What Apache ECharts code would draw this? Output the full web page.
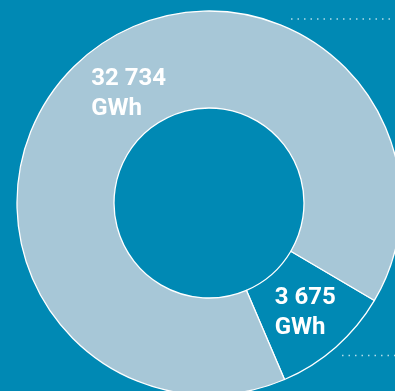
<!DOCTYPE html>
<html>
<head>
<meta charset="utf-8">
<script src="https://cdn.jsdelivr.net/npm/echarts@6/dist/echarts.min.js"></script>
<style>
  html, body { margin: 0; padding: 0; background: #0089b4; }
  #chart { width: 395px; height: 391px; }
</style>
</head>
<body>
<div id="chart"></div>
<script>
// values in GWh
var names = ['small', 'large'];
var values = [3675, 32734];
var labels = ['3 675\nGWh', '32 734\nGWh'];

var bg = '#0089b4';
var sliceColors = [bg, '#a7c7d7'];
// nudges for the labels (left aligned in the original)
var labelShift = [[-31, 0], [-21, 1]];

var chart = echarts.init(document.getElementById('chart'));
var data = [];
for (var i = 0; i < values.length; i++) {
    data.push({
        name: names[i],
        value: values[i],
        itemStyle: { color: sliceColors[i] },
        label: { formatter: labels[i] }
    });
}

var option = {
    backgroundColor: bg,
    animation: false,
    graphic: [
        {
            type: 'line',
            shape: { x1: 291, y1: 19, x2: 395, y2: 19 },
            style: { stroke: 'rgba(255,255,255,0.7)', lineWidth: 1.5, lineDash: [1.5, 5] }
        },
        {
            type: 'line',
            shape: { x1: 342, y1: 355.5, x2: 395, y2: 355.5 },
            style: { stroke: 'rgba(255,255,255,0.7)', lineWidth: 1.5, lineDash: [1.5, 5] }
        }
    ],
    series: [{
        type: 'pie',
        center: [209, 203],
        radius: [95, 192],
        startAngle: -30.5,
        clockwise: true,
        silent: true,
        itemStyle: {
            borderColor: '#ffffff',
            borderWidth: 1.3
        },
        label: {
            show: true,
            position: 'inside',
            color: '#ffffff',
            fontFamily: 'Roboto',
            fontWeight: 'bold',
            fontSize: 24,
            lineHeight: 30
        },
        labelLayout: function (p) {
            return {
                align: 'left',
                dx: labelShift[p.dataIndex][0],
                dy: labelShift[p.dataIndex][1]
            };
        },
        labelLine: { show: false },
        data: data
    }]
};
chart.setOption(option);
</script>
</body>
</html>
